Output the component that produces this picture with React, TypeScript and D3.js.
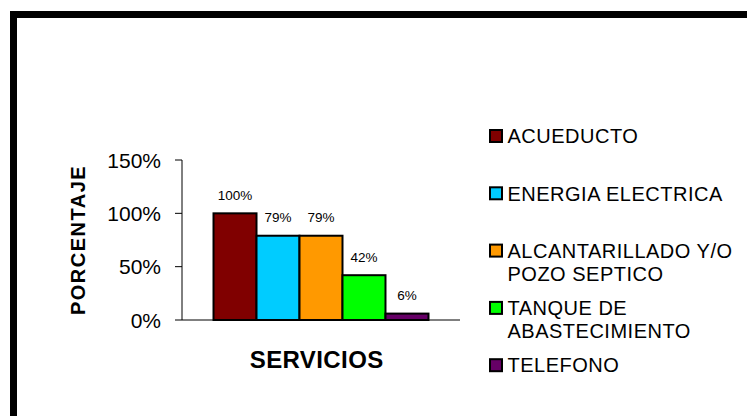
import React from "react";
import * as d3 from "d3";

const categories = ["ACUEDUCTO", "ENERGIA ELECTRICA", "ALCANTARILLADO Y/O POZO SEPTICO", "TANQUE DE ABASTECIMIENTO", "TELEFONO"];
const legendLines = [["ACUEDUCTO"], ["ENERGIA ELECTRICA"], ["ALCANTARILLADO Y/O", "POZO SEPTICO"], ["TANQUE DE", "ABASTECIMIENTO"], ["TELEFONO"]];
const values = [100, 79, 79, 42, 6];
const colors = ["#800000", "#00CCFF", "#FF9900", "#00FF00", "#660066"];
const yTicks = [0, 50, 100, 150];
const yTitle = "PORCENTAJE";
const xTitle = "SERVICIOS";

const W = 747;
const H = 416;
const FONT = "'Liberation Sans', Arial, sans-serif";

export default function App() {
  const plot = { left: 182, right: 460, top: 160, bottom: 320 };
  const y = d3.scaleLinear().domain([0, 150]).range([plot.bottom, plot.top]);
  const x = d3
    .scaleBand<string>()
    .domain(categories)
    .range([plot.left, plot.right])
    .paddingInner(0)
    .paddingOuter(0.733);
  const fmt = (v: number) => `${v}%`;

  const legendX = 489;
  const legendY0 = 136;
  const legendStep = 57.3;
  const lineH = 23;

  return (
    <div style={{ position: "absolute", left: 0, top: 0, width: W, height: H, overflow: "hidden", background: "#fff" }}>
      <svg width={W} height={H} style={{ display: "block" }} fontFamily={FONT}>
        <rect x={0} y={0} width={W} height={H} fill="#fff" />
        {/* bars */}
        {categories.map((c, i) => (
          <rect
            key={c}
            x={x(c)}
            y={y(values[i])}
            width={x.bandwidth()}
            height={y(0) - y(values[i])}
            fill={colors[i]}
            stroke="#000"
            strokeWidth={2}
          />
        ))}
        {/* data labels */}
        {categories.map((c, i) => (
          <text
            key={"l" + c}
            x={(x(c) as number) + x.bandwidth() / 2}
            y={y(values[i]) - 13.5}
            textAnchor="middle"
            fontSize={13.5}
            fill="#000"
          >
            {fmt(values[i])}
          </text>
        ))}
        {/* y axis */}
        <line x1={plot.left} x2={plot.left} y1={y(150)} y2={y(0)} stroke="#000" strokeWidth={1} />
        {yTicks.map((t) => (
          <g key={t}>
            <line x1={plot.left - 7} x2={plot.left} y1={y(t)} y2={y(t)} stroke="#000" strokeWidth={1} />
            <text x={161} y={y(t)} dy="0.36em" textAnchor="end" fontSize={21} fill="#000">
              {fmt(t)}
            </text>
          </g>
        ))}
        {/* x axis */}
        <line x1={plot.left} x2={plot.right} y1={y(0)} y2={y(0)} stroke="#000" strokeWidth={1} />
        {/* titles */}
        <text
          transform={`translate(84.5,240) rotate(-90)`}
          textAnchor="middle"
          fontSize={20}
          fontWeight="bold"
          letterSpacing={1.5}
          fill="#000"
        >
          {yTitle}
        </text>
        <text x={316.7} y={368.3} textAnchor="middle" fontSize={24} fontWeight="bold" letterSpacing={0.4} fill="#000">
          {xTitle}
        </text>
        {/* legend */}
        {legendLines.map((lines, i) => {
          const cy = legendY0 + i * legendStep;
          return (
            <g key={"lg" + i}>
              <rect x={legendX + 1} y={cy - 6} width={12} height={12} fill={colors[i]} stroke="#000" strokeWidth={2} />
              {lines.map((ln, j) => (
                <text key={j} x={507.5} y={cy + j * lineH} dy="0.36em" fontSize={20} letterSpacing={0.5} fill="#000">
                  {ln}
                </text>
              ))}
            </g>
          );
        })}
        {/* border */}
        <rect x={13.5} y={14.5} width={800} height={500} fill="none" stroke="#000" strokeWidth={7} />
      </svg>
    </div>
  );
}
